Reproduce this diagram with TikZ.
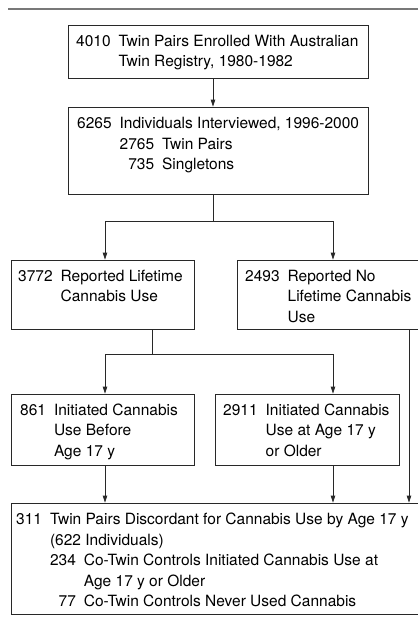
\documentclass[tikz,border=0pt]{standalone}
\usepackage{fontspec}
\setmainfont{TeX Gyre Heros}
\usepackage{tikz}
\usetikzlibrary{arrows.meta}
\definecolor{headgray}{RGB}{120,120,120}
\definecolor{linegray}{RGB}{40,40,40}
\tikzset{
  box/.style={draw=linegray,line width=0.8pt,inner sep=0pt,rectangle},
  txt/.style={anchor=base west,inner sep=0pt,font=\fontsize{15.5}{20.5}\selectfont},
  arr/.style={draw=linegray,line width=0.8pt,-{Triangle[length=7pt,width=4.5pt]}},
  lin/.style={draw=linegray,line width=0.8pt},
  headline/.style={draw=headgray,line width=1.6pt},
}
\newcommand{\nrtab}[1]{\begin{tabular}[t]{@{}l@{\hspace{8pt}}l@{}}#1\end{tabular}}
\newcommand{\subtab}[1]{\begin{tabular}[t]{@{}r@{\hspace{8pt}}l@{}}#1\end{tabular}}

\begin{document}
\begin{tikzpicture}[x=1pt,y=-1pt]
        \useasboundingbox (0,0) rectangle (418,625);
        \draw [headline] (8,9) -- (420,9);
        % boxes
        \node (b1) at (218,51.5) [box,minimum width=300pt,minimum height=53pt] {};
        \node (b2) at (218,150.5) [box,minimum width=300pt,minimum height=87pt] {};
        \node (b3) at (102.5,294.5) [box,minimum width=183pt,minimum height=69pt] {};
        \node (b4) at (329.5,294.5) [box,minimum width=185pt,minimum height=69pt] {};
        \node (b5) at (102.5,429.5) [box,minimum width=183pt,minimum height=71pt] {};
        \node (b6) at (307,429.5) [box,minimum width=184pt,minimum height=71pt] {};
        \node (b7) at (216.5,558.5) [box,minimum width=411pt,minimum height=111pt] {};
        % texts
        \node (t1) at (76,46) [txt] {\nrtab{4010 & Twin Pairs Enrolled With Australian\\ & Twin Registry, 1980-1982}};
        \node (t2) at (77,128.5) [txt] {\nrtab{6265 & Individuals Interviewed, 1996-2000\\
          & \subtab{2765 & Twin Pairs\\ 735 & Singletons}}};
        \node (t3) at (18,281) [txt] {\nrtab{3772 & Reported Lifetime\\ & Cannabis Use}};
        \node (t4) at (245,281) [txt] {\nrtab{2493 & Reported No\\ & Lifetime Cannabis\\ & Use}};
        \node (t5) at (20,415) [txt] {\nrtab{861 & Initiated Cannabis\\ & Use Before\\ & Age 17 y}};
        \node (t6) at (223,415) [txt] {\nrtab{2911 & Initiated Cannabis\\ & Use at Age 17 y\\ & or Older}};
        \node (t7) at (16,524.5) [txt] {\nrtab{311 & Twin Pairs Discordant for Cannabis Use by Age 17 y\\
          & (622 Individuals)\\
          & \subtab{234 & Co-Twin Controls Initiated Cannabis Use at\\ & Age 17 y or Older\\ 77 & Co-Twin Controls Never Used Cannabis}}};
        % connector columns
        \coordinate (xm) at (213,0);
        \coordinate (xa) at (105,0);
        \coordinate (xb) at (333,0);
        \coordinate (xc) at (409,0);
        \coordinate (j1) at (213,221);
        \coordinate (j2) at (152,354);
        \draw [arr] (b1.south -| xm) -- (b2.north -| xm);
        \draw [lin] (b2.south -| xm) -- (j1);
        \draw [arr] (j1) -| (b3.north -| xa);
        \draw [arr] (j1) -| (b4.north -| xb);
        \draw [lin] (b3.south -| j2) -- (j2);
        \draw [arr] (j2) -| (b5.north -| xa);
        \draw [arr] (j2) -| (b6.north -| xb);
        \draw [arr] (b5.south -| xa) -- (b7.north -| xa);
        \draw [arr] (b6.south -| xb) -- (b7.north -| xb);
        \draw [arr] (b4.south -| xc) -- (b7.north -| xc);
      \end{tikzpicture}
\end{document}
